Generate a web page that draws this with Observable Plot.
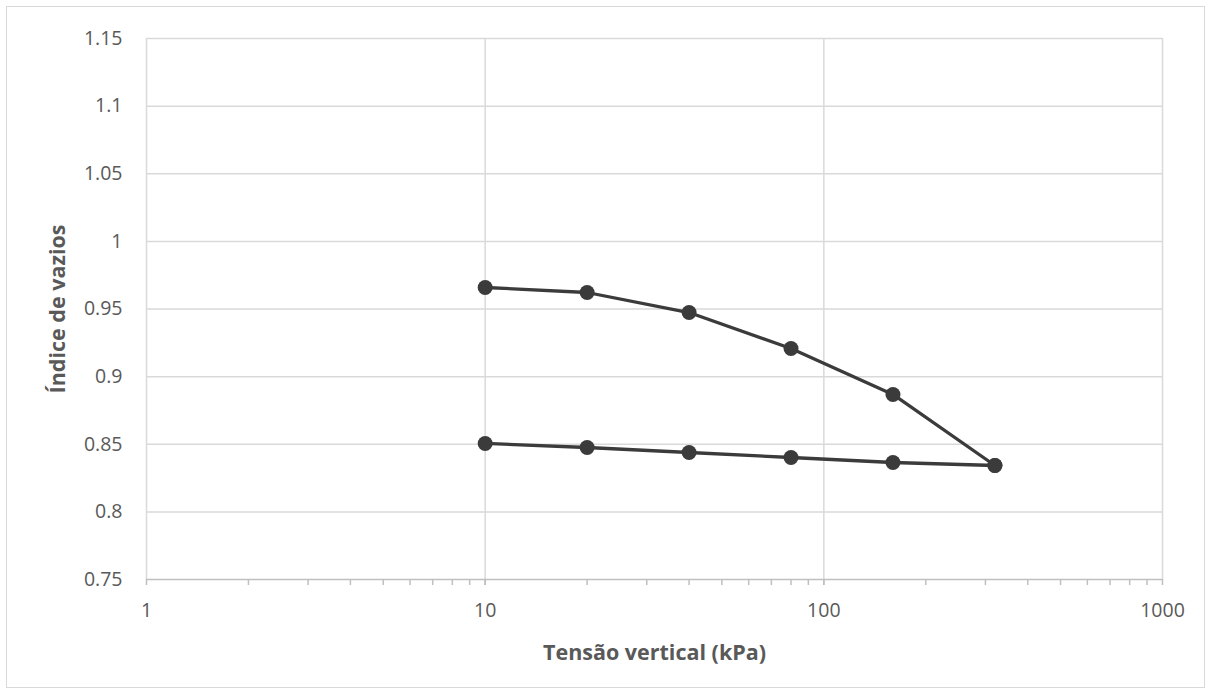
<!DOCTYPE html>
<html>
<head>
<meta charset="utf-8">
<script src="https://cdn.jsdelivr.net/npm/d3@7"></script>
<script src="https://cdn.jsdelivr.net/npm/@observablehq/plot@0.6"></script>
<style>
  html, body { margin: 0; padding: 0; background: #fff; }
  #wrap { position: relative; width: 1213px; height: 695px; }
  #frame { position: absolute; left: 6px; top: 6px; width: 1199px; height: 682px; border: 1px solid #d9d9d9; box-sizing: border-box; pointer-events: none; }
</style>
</head>
<body>
<div id="wrap"><div id="frame"></div></div>
<script>
const tensao = [10, 20, 40, 80, 160, 320];
const carregamento = [0.9659, 0.9622, 0.9474, 0.9208, 0.8868, 0.8343];
const descarregamento = [0.8506, 0.8476, 0.8439, 0.8402, 0.8365, 0.8343];
const xMajorTicks = [1, 10, 100, 1000];
const yTicks = [0.75, 0.8, 0.85, 0.9, 0.95, 1, 1.05, 1.1, 1.15];
const xTitle = "Tensão vertical (kPa)";
const yTitle = "Índice de vazios";

const data = [
  ...tensao.map((x, i) => ({x, y: carregamento[i], s: "carregamento"})),
  ...tensao.map((x, i) => ({x, y: descarregamento[i], s: "descarregamento"}))
];
const minorTicks = [];
for (let d = 1; d < 1000; d *= 10) for (let k = 1; k <= 10; k++) minorTicks.push(d * k);

const gray = "#d9d9d9";
const txt = "#595959";
const ink = "#3b3b3b";

const chart = Plot.plot({
  width: 1213,
  height: 695,
  marginLeft: 146,
  marginRight: 51,
  marginTop: 38,
  marginBottom: 116,
  style: {fontFamily: "'Open Sans', sans-serif", fontSize: "19px", color: txt, background: "transparent"},
  x: {type: "log", domain: [1, 1000]},
  y: {domain: [0.75, 1.15]},
  marks: [
    Plot.ruleY(yTicks.filter(d => d > 0.75), {stroke: gray, strokeWidth: 1.5}),
    Plot.ruleX(xMajorTicks, {stroke: gray, strokeWidth: 1.5}),
    Plot.ruleY([0.75], {stroke: "#bfbfbf", strokeWidth: 1.5}),
    Plot.axisX({ticks: minorTicks, tickSize: 6, tickFormat: null, text: null, label: null, stroke: "#bfbfbf", strokeWidth: 1.5}),
    Plot.axisX({ticks: xMajorTicks, tickSize: 0, tickPadding: 24, tickFormat: d => String(d), fill: txt, fontSize: 19.5,
      label: xTitle, labelAnchor: "center", labelArrow: "none", labelOffset: 80}),
    Plot.axisY({ticks: yTicks, tickSize: 0, tickPadding: 24, tickFormat: d => String(+d.toFixed(2)), fill: txt, fontSize: 19.5,
      label: yTitle, labelAnchor: "center", labelArrow: "none", labelOffset: 97}),
    Plot.line(data, {x: "x", y: "y", z: "s", stroke: ink, strokeWidth: 3.3}),
    Plot.dot(data, {x: "x", y: "y", r: 7.5, fill: ink, stroke: "none"})
  ]
});
d3.select(chart).selectAll("[aria-label='x-axis label'] text, [aria-label='y-axis label'] text")
  .style("font-weight", "700").style("font-size", "21.5px").attr("fill", txt);
document.getElementById("wrap").prepend(chart);
</script>
</body>
</html>
